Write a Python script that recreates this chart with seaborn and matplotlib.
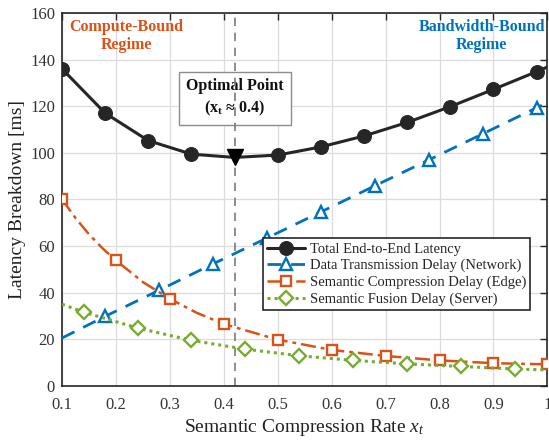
import matplotlib
matplotlib.use("Agg")
import matplotlib.pyplot as plt
import pandas as pd
import seaborn as sns

# Total end-to-end latency (ms)
total_x = [0.10, 0.18, 0.26, 0.34, 0.42, 0.50, 0.58, 0.66, 0.74, 0.82, 0.90, 0.98, 1.00]
total_y = [136.0, 117.0, 105.2, 99.4, 98.0, 99.0, 102.5, 107.2, 113.0, 119.8, 127.2, 134.8, 136.8]

# Data transmission delay (network)
trans_x = [0.10, 0.18, 0.28, 0.38, 0.48, 0.58, 0.68, 0.78, 0.88, 0.98, 1.00]
trans_y = [20.5, 29.8, 41.0, 52.3, 63.4, 74.6, 85.8, 96.9, 108.1, 119.3, 121.5]

# Semantic compression delay (edge)
comp_x = [0.10, 0.125, 0.15, 0.175, 0.20, 0.25, 0.30, 0.35, 0.40, 0.50, 0.60, 0.70, 0.80, 0.90, 1.00]
comp_y = [80.0, 72.0, 65.0, 59.0, 53.8, 44.5, 37.3, 31.3, 26.5, 19.8, 15.4, 12.8, 10.9, 9.7, 9.2]

# Semantic fusion delay (server)
fusion_x = [0.10, 0.14, 0.24, 0.34, 0.44, 0.54, 0.64, 0.74, 0.84, 0.94, 1.00]
fusion_y = [35.0, 31.6, 24.8, 19.5, 15.7, 12.9, 10.9, 9.4, 8.3, 7.2, 6.8]

opt_x = 0.42
x_ticks = [0.1, 0.2, 0.3, 0.4, 0.5, 0.6, 0.7, 0.8, 0.9, 1.0]
x_tick_labels = ["0.1", "0.2", "0.3", "0.4", "0.5", "0.6", "0.7", "0.8", "0.9", "1"]
y_ticks = [0, 20, 40, 60, 80, 100, 120, 140, 160]

C_TOTAL = "#262626"
C_TRANS = "#0072BD"
C_COMP = "#D95319"
C_FUSION = "#77AC30"

sns.set_theme(style="whitegrid")
plt.rcParams["font.family"] = ["Liberation Serif", "DejaVu Serif"]
plt.rcParams["mathtext.fontset"] = "custom"
plt.rcParams["mathtext.rm"] = "Liberation Serif"
plt.rcParams["mathtext.it"] = "Liberation Serif:italic"
plt.rcParams["mathtext.bf"] = "Liberation Serif:bold"

fig = plt.figure(figsize=(5.49, 4.46), dpi=100)
ax = fig.add_axes([0.113, 0.135, 0.884, 0.836])

df_total = pd.DataFrame({"x": total_x, "y": total_y})
df_trans = pd.DataFrame({"x": trans_x, "y": trans_y})
df_comp = pd.DataFrame({"x": comp_x, "y": comp_y})
df_fusion = pd.DataFrame({"x": fusion_x, "y": fusion_y})

comp_marks = [i for i, v in enumerate(comp_x) if round(v * 10, 6) == round(v * 10)]

sns.lineplot(data=df_trans, x="x", y="y", ax=ax, color=C_TRANS, lw=2.0,
             linestyle=(0, (5, 3.5)), marker="^", markersize=9,
             markerfacecolor="white", markeredgecolor=C_TRANS, markeredgewidth=1.7,
             markevery=list(range(1, len(trans_x) - 1)), zorder=4,
             label="Data Transmission Delay (Network)")
sns.lineplot(data=df_comp, x="x", y="y", ax=ax, color=C_COMP, lw=1.8,
             linestyle=(0, (6, 2, 1.5, 2)), marker="s", markersize=7,
             markerfacecolor="white", markeredgecolor=C_COMP, markeredgewidth=1.7,
             markevery=comp_marks, zorder=4,
             label="Semantic Compression Delay (Edge)")
sns.lineplot(data=df_fusion, x="x", y="y", ax=ax, color=C_FUSION, lw=2.2,
             linestyle=(0, (1, 1.3)), marker="D", markersize=7,
             markerfacecolor="white", markeredgecolor=C_FUSION, markeredgewidth=1.7,
             markevery=list(range(1, len(fusion_x) - 1)), zorder=4,
             label="Semantic Fusion Delay (Server)")
opt_idx = total_x.index(opt_x)
sns.lineplot(data=df_total, x="x", y="y", ax=ax, color=C_TOTAL, lw=2.2,
             marker="o", markersize=10, markeredgecolor=C_TOTAL,
             markevery=[i for i in range(len(total_x) - 1) if i != opt_idx], zorder=5,
             label="Total End-to-End Latency")
ax.plot([opt_x], [total_y[opt_idx]], marker="v", markersize=11, color="black",
        linestyle="none", zorder=6)

# optimal-point guide
ax.axvline(opt_x, color="#7a7a7a", lw=1.2, linestyle=(0, (5, 4)), zorder=2.5)
ax.text(opt_x, 123.5, "Optimal Point\n($\\mathbf{x_t}$ \u2248 0.4)", ha="center", va="center",
        fontsize=11.5, fontweight="bold", color="#111111", linespacing=1.35, zorder=2,
        bbox=dict(boxstyle="square,pad=0.45", facecolor="white", edgecolor="#8c8c8c", lw=1.0))

ax.text(0.22, 150, "Compute-Bound\nRegime", ha="center", va="center", fontsize=11.5,
        fontweight="bold", color=C_COMP, linespacing=1.2)
ax.text(0.878, 150, "Bandwidth-Bound\nRegime", ha="center", va="center", fontsize=11.5,
        fontweight="bold", color=C_TRANS, linespacing=1.2)

ax.set_xlim(0.1, 1.0)
ax.set_ylim(0, 160)
ax.set_xticks(x_ticks)
ax.set_xticklabels(x_tick_labels)
ax.set_yticks(y_ticks)
ax.tick_params(axis="both", which="both", direction="in", length=5, width=1,
               colors="#262626", labelsize=12, top=True, right=True)
ax.tick_params(axis="x", pad=8)
ax.tick_params(axis="y", pad=5)
for lab in ax.get_xticklabels() + ax.get_yticklabels():
    lab.set_color("#333333")
ax.grid(True, color="#dcdcdc", lw=0.9)
for sp in ax.spines.values():
    sp.set_edgecolor("#262626")
    sp.set_linewidth(1.2)
    sp.set_visible(True)

ax.set_xlabel("Semantic Compression Rate $x_t$", fontsize=14, color="#222222", labelpad=3)
ax.set_ylabel("Latency Breakdown [ms]", fontsize=14, color="#222222", labelpad=3)

handles, labels = ax.get_legend_handles_labels()
order = [labels.index(n) for n in ["Total End-to-End Latency",
                                   "Data Transmission Delay (Network)",
                                   "Semantic Compression Delay (Edge)",
                                   "Semantic Fusion Delay (Server)"]]
leg = ax.legend([handles[i] for i in order], [labels[i] for i in order],
                loc="upper left", bbox_to_anchor=(0.414, 0.396), borderaxespad=0,
                fontsize=10.5, frameon=True, fancybox=False, edgecolor="#262626",
                framealpha=1, handlelength=2.6, handletextpad=0.3, labelspacing=0.22,
                borderpad=0.3, numpoints=1)
leg.get_frame().set_linewidth(1.2)
leg.set_zorder(7)

fig.savefig("out.png", dpi=100)
